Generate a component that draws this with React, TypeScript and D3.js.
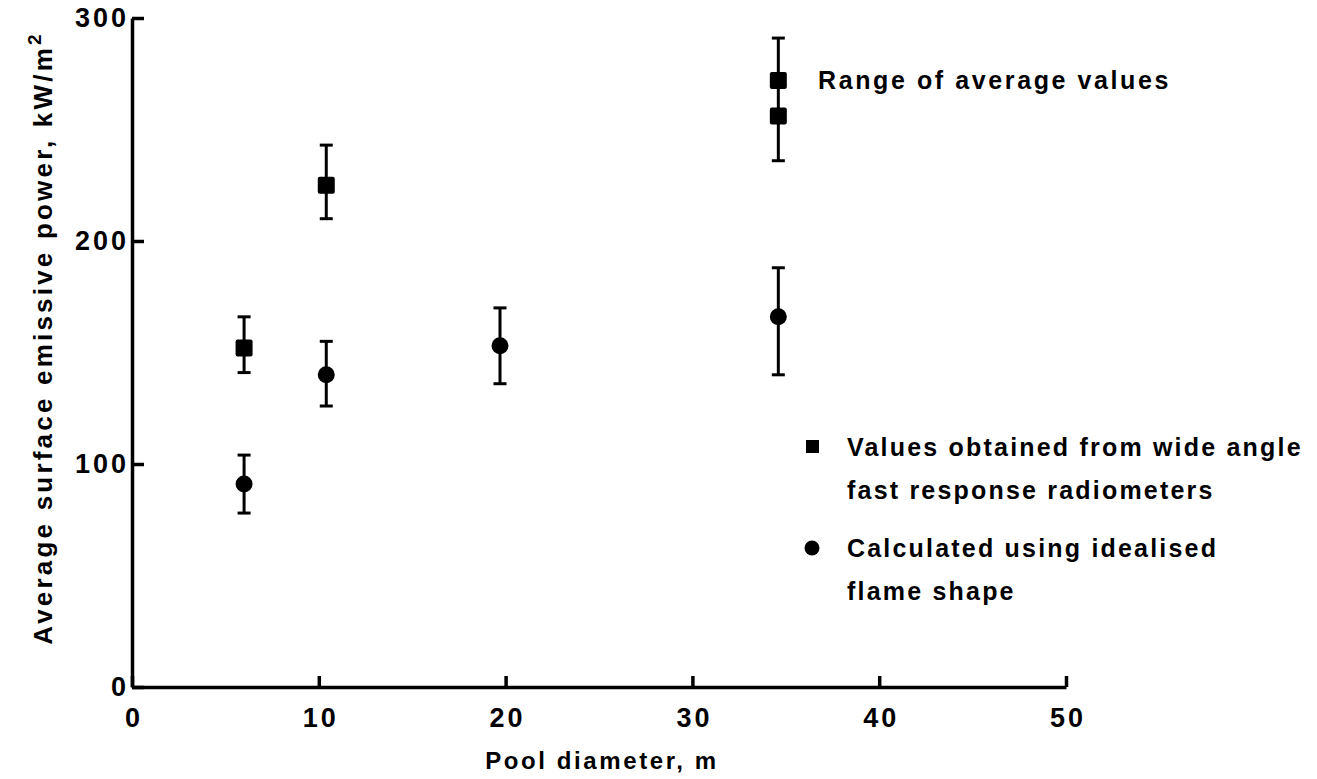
import React, { useEffect, useRef } from "react";
import * as d3 from "d3";

// pool diameter (m) for the radiometer squares
const radiometerD = [6, 10.4, 34.6, 34.6];
const radiometerValue = [152, 225, 272, 256];
// range of average values (error bars) for the radiometer points
const radiometerBarD = [6, 10.4, 34.6];
const radiometerLow = [141, 210, 236];
const radiometerHigh = [166, 243, 291];

// idealised flame shape calculation (circles)
const calcD = [6, 10.4, 19.7, 34.6];
const calcValue = [91, 140, 153, 166];
const calcLow = [78, 126, 136, 140];
const calcHigh = [104, 155, 170, 188];

const xTicks = [0, 10, 20, 30, 40, 50];
const yTicks = [0, 100, 200, 300];

const legendItems = [
  { shape: "square", lines: ["Values obtained from wide angle", "fast response radiometers"] },
  { shape: "circle", lines: ["Calculated using idealised", "flame shape"] },
];

const width = 1317;
const height = 779;
const font = "'Liberation Sans', Arial, Helvetica, sans-serif";

const App: React.FC = () => {
  const xAxisRef = useRef<SVGGElement>(null);
  const yAxisRef = useRef<SVGGElement>(null);

  const x = d3.scaleLinear().domain([0, 50]).range([132, 1066]);
  const y = d3.scaleLinear().domain([0, 300]).range([687, 18]);

  useEffect(() => {
    if (!xAxisRef.current || !yAxisRef.current) return;

    const xAxis = d3
      .axisBottom(x)
      .tickValues(xTicks)
      .tickSizeInner(-11)
      .tickSizeOuter(0)
      .tickPadding(21)
      .tickFormat(d3.format("d"));

    const yAxis = d3
      .axisLeft(y)
      .tickValues(yTicks)
      .tickSizeInner(-12)
      .tickSizeOuter(0)
      .tickPadding(6)
      .tickFormat(d3.format("d"));

    const gx = d3.select(xAxisRef.current);
    gx.selectAll("*").remove();
    gx.call(xAxis);

    const gy = d3.select(yAxisRef.current);
    gy.selectAll("*").remove();
    gy.call(yAxis);

    [gx, gy].forEach((g) => {
      g.select(".domain").attr("stroke", "#000").attr("stroke-width", 3.5);
      g.selectAll(".tick line").attr("stroke", "#000").attr("stroke-width", 3.5);
      g.selectAll(".tick text")
        .attr("fill", "#000")
        .attr("font-family", font)
        .attr("font-weight", "bold")
        .attr("font-size", 27)
        .attr("letter-spacing", 3);
    });
    gx.selectAll(".tick text").attr("dy", "0.71em").attr("dx", 1.5);
    gy.selectAll(".tick text").attr("dx", 3);
  }, []);

  const barGroups = [
    ...radiometerBarD.map((d, i) => ({ d, lo: radiometerLow[i], hi: radiometerHigh[i] })),
    ...calcD.map((d, i) => ({ d, lo: calcLow[i], hi: calcHigh[i] })),
  ];

  const sq = 17;
  const cap = 13;

  return (
    <svg width={width} height={height} style={{ position: "absolute", left: 0, top: 0, background: "#fff" }}>
      <rect width={width} height={height} fill="#fff" />
      <g ref={xAxisRef} transform={`translate(0,${y(0)})`} />
      <g ref={yAxisRef} transform={`translate(${x(0)},0)`} />

      {/* error bars */}
      {barGroups.map((b, i) => (
        <g key={`bar-${i}`} stroke="#000" strokeWidth={3}>
          <line x1={x(b.d)} x2={x(b.d)} y1={y(b.lo)} y2={y(b.hi)} />
          <line x1={x(b.d) - cap / 2} x2={x(b.d) + cap / 2} y1={y(b.lo)} y2={y(b.lo)} />
          <line x1={x(b.d) - cap / 2} x2={x(b.d) + cap / 2} y1={y(b.hi)} y2={y(b.hi)} />
        </g>
      ))}

      {/* radiometer squares */}
      {radiometerD.map((d, i) => (
        <rect
          key={`sq-${i}`}
          x={x(d) - sq / 2}
          y={y(radiometerValue[i]) - sq / 2}
          width={sq}
          height={sq}
          rx={2}
          fill="#000"
        />
      ))}

      {/* calculated circles */}
      {calcD.map((d, i) => (
        <circle key={`c-${i}`} cx={x(d)} cy={y(calcValue[i])} r={8.5} fill="#000" />
      ))}

      {/* range label */}
      <text
        x={818}
        y={89}
        fontFamily={font}
        fontWeight="bold"
        fontSize={25}
        letterSpacing={2.6}
        fill="#000"
      >
        Range of average values
      </text>

      {/* legend */}
      {legendItems.map((item, i) => {
        const ly = 447 + i * 101;
        return (
          <g key={`leg-${i}`}>
            {item.shape === "square" ? (
              <rect x={806} y={ly - 7} width={13} height={13} fill="#000" />
            ) : (
              <circle cx={812} cy={ly} r={7.5} fill="#000" />
            )}
            {item.lines.map((t, j) => (
              <text
                key={j}
                x={847}
                y={ly + 9 + j * 43}
                fontFamily={font}
                fontWeight="bold"
                fontSize={25}
                letterSpacing={2.2}
                fill="#000"
              >
                {t}
              </text>
            ))}
          </g>
        );
      })}

      {/* axis titles */}
      <text
        x={602}
        y={769}
        textAnchor="middle"
        fontFamily={font}
        fontWeight="bold"
        fontSize={24}
        letterSpacing={2.6}
        fill="#000"
      >
        Pool diameter, m
      </text>
      <text
        transform={`translate(52,${338}) rotate(-90)`}
        textAnchor="middle"
        fontFamily={font}
        fontWeight="bold"
        fontSize={26}
        letterSpacing={3.2}
        fill="#000"
      >
        Average surface emissive power, kW/m
        <tspan dy={-11} fontSize={19}>2</tspan>
      </text>
    </svg>
  );
};

export default App;
